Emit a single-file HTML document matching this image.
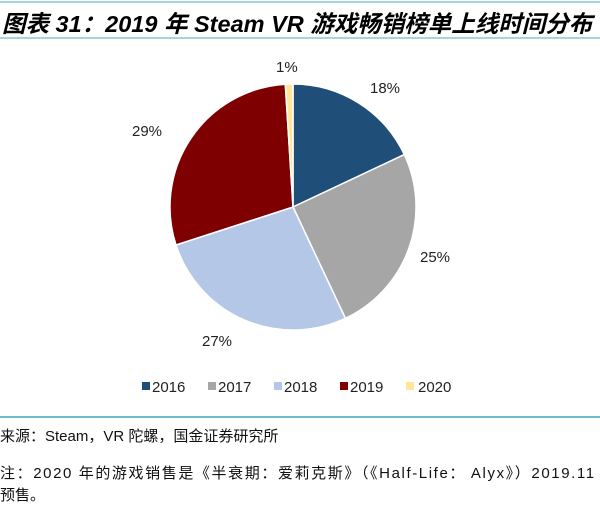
<!DOCTYPE html>
<html><head><meta charset="utf-8"><style>
body{margin:0;width:600px;height:513px;background:#fff;position:relative;overflow:hidden;font-family:"Liberation Sans","Noto Sans CJK SC",sans-serif;}
.t{position:absolute;white-space:nowrap;}
</style></head><body>
<div style="position:absolute;left:0;top:1px;width:600px;height:2px;background:#a8d4dc"></div>
<div class="t" style="left:2px;top:5px;font-size:23.5px;font-weight:bold;font-style:italic;color:#000;">图表 31：2019 年 Steam VR 游戏畅销榜单上线时间分布</div>
<div style="position:absolute;left:0;top:37px;width:600px;height:2px;background:#a8d4dc"></div>
<svg style="position:absolute;left:0;top:0" width="600" height="513">
<g stroke="#fff" stroke-width="1.5">
<path d="M293,207 L293,84 A123,123 0 0 1 404.3,154.6 Z" fill="#1f4e79"/>
<path d="M293,207 L404.3,154.6 A123,123 0 0 1 345.4,318.3 Z" fill="#a6a6a6"/>
<path d="M293,207 L345.4,318.3 A123,123 0 0 1 176,245 Z" fill="#b4c7e7"/>
<path d="M293,207 L176,245 A123,123 0 0 1 285.3,84.2 Z" fill="#7f0000"/>
<path d="M293,207 L285.3,84.2 A123,123 0 0 1 293,84 Z" fill="#ffe699"/>
</g>
<g font-family="Liberation Sans,sans-serif" font-size="15" fill="#222">
<text x="370" y="93">18%</text>
<text x="420" y="262">25%</text>
<text x="202" y="346">27%</text>
<text x="132" y="136">29%</text>
<text x="276" y="72">1%</text>
</g>
<g font-family="Liberation Sans,sans-serif" font-size="15" fill="#222">
<rect x="142" y="382" width="8" height="8" fill="#1f4e79"/><text x="152" y="392">2016</text>
<rect x="208" y="382" width="8" height="8" fill="#a6a6a6"/><text x="218" y="392">2017</text>
<rect x="274" y="382" width="8" height="8" fill="#b4c7e7"/><text x="284" y="392">2018</text>
<rect x="340" y="382" width="8" height="8" fill="#7f0000"/><text x="350" y="392">2019</text>
<rect x="406" y="382" width="8" height="8" fill="#ffe699"/><text x="418" y="392">2020</text>
</g>
</svg>
<div style="position:absolute;left:0;top:416px;width:600px;height:2px;background:#6fbcd0"></div>
<div class="t" style="left:0;top:425px;font-size:15px;color:#111">来源：Steam，VR 陀螺，国金证券研究所</div>
<div class="t" style="left:0;top:462px;font-size:15px;color:#111;letter-spacing:1.6px">注：2020 年的游戏销售是《半衰期：爱莉克斯》（《Half-Life： Alyx》）2019.11</div>
<div class="t" style="left:0;top:484px;font-size:15px;color:#111">预售。</div>
</body></html>
